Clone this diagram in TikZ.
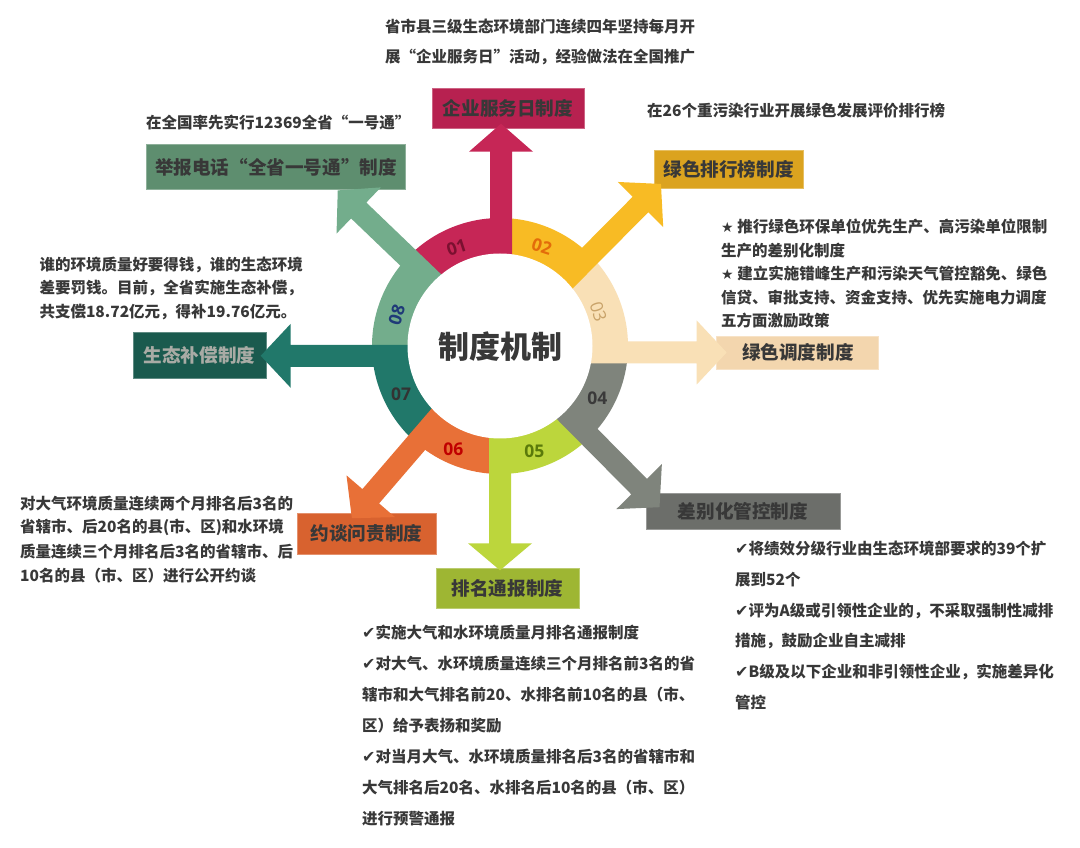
\documentclass[tikz,border=0pt]{standalone}
\usepackage{fontspec}
\setmainfont{Noto Sans CJK SC}
\newfontfamily\numfont{Open Sans}
\newfontfamily\symfont{DejaVu Sans}
\usetikzlibrary{calc}
\definecolor{txtgray}{HTML}{383838}
\definecolor{c1}{HTML}{C62656}\definecolor{k1}{HTML}{B72150}
\definecolor{c2}{HTML}{F8BB24}\definecolor{k2}{HTML}{DBA31F}
\definecolor{c3}{HTML}{F9E0B6}\definecolor{k3}{HTML}{F3D6AE}
\definecolor{c4}{HTML}{7F847C}\definecolor{k4}{HTML}{6C6E6A}
\definecolor{c5}{HTML}{BCD63C}\definecolor{k5}{HTML}{9EB633}
\definecolor{c6}{HTML}{E87037}\definecolor{k6}{HTML}{D8622F}
\definecolor{c7}{HTML}{21786A}\definecolor{k7}{HTML}{1A5A4E}
\definecolor{c8}{HTML}{73AD8C}\definecolor{k8}{HTML}{5E8E6F}
\definecolor{n1}{HTML}{7B1030}\definecolor{n2}{HTML}{E36C0A}
\definecolor{n3}{HTML}{C9A36A}\definecolor{n4}{HTML}{3A3A3A}
\definecolor{n5}{HTML}{5A7A0A}\definecolor{n6}{HTML}{C00000}
\definecolor{n7}{HTML}{333333}\definecolor{n8}{HTML}{1F3A78}
\definecolor{lightlbl}{HTML}{A9ABA5}
\newcommand\arrowpiece[5]{% color, angle, offset, base distance, head length
 \fill[#1] ($(C)+({#2-90}:{#3-11})$) -- ($(C)+(#2:#4)+({#2-90}:{#3-11})$)
  -- ($(C)+(#2:#4)+({#2-90}:{#3-32})$) -- ($(C)+(#2:{#4+#5})+({#2-90}:#3)$)
  -- ($(C)+(#2:#4)+({#2-90}:{#3+32})$) -- ($(C)+(#2:#4)+({#2-90}:{#3+11})$)
  -- ($(C)+({#2-90}:{#3+11})$) -- cycle;}
\newcommand\ringsector[3]{\fill[#1] (C) -- ($(C)+(#2:128)$) arc[start angle=#2, end angle=#3, radius=128] -- cycle;}
\newcommand\chk{{\symfont\fontsize{16}{18}\selectfont ✔}}
\newcommand\str{{\symfont\fontsize{14}{18}\selectfont ★}}
\tikzset{
 txt/.style={anchor=west, inner sep=0pt, text=txtgray, font=\fontsize{15.5}{18}\selectfont\bfseries},
 lbl/.style={inner sep=0pt, text=txtgray, font=\fontsize{18.6}{22}\selectfont\bfseries},
 boxk/.style={lbl, fill=#1, draw=#1!70!white, line width=0.8pt},
 num/.style={inner sep=0pt, font=\numfont\fontsize{17.5}{20}\selectfont\bfseries},
}
\begin{document}
\begin{tikzpicture}[x=1pt,y=1pt]
\useasboundingbox (0,0) rectangle (1080,847);
\fill[white] (0,0) rectangle (1080,847);
\coordinate (C) at (500,501);
% boxes
\node[boxk=k1, minimum width=152pt, minimum height=40pt] (b1) at (508,739) {企业服务日制度};
\node[boxk=k2, minimum width=149pt, minimum height=38pt] (b2) at (728.5,678) {绿色排行榜制度};
\node[boxk=k3, minimum width=162pt, minimum height=33pt] (b3) at (797.8,494.3) {绿色调度制度};
\node[boxk=k4, minimum width=194pt, minimum height=36pt] (b4) at (743,336) {差别化管控制度};
\node[boxk=k5, minimum width=143pt, minimum height=40pt] (b5) at (507.5,259) {排名通报制度};
\node[boxk=k6, minimum width=139pt, minimum height=41pt] (b6) at (366.5,313.5) {约谈问责制度};
\node[boxk=k7, minimum width=133pt, minimum height=46pt, text=lightlbl] (b7) at (199.5,492) {生态补偿制度};
\node[boxk=k8, minimum width=259pt, minimum height=45pt] (b8) at (276,680) {举报电话“全省一号通”制度};
% ring sectors
\ringsector{c1}{90}{136.2}
\ringsector{c8}{136.2}{180}
\ringsector{c7}{180}{229.3}
\ringsector{c6}{229.3}{270}
\ringsector{c5}{-90}{-45.3}
\ringsector{c4}{-45.3}{0}
\ringsector{c3}{0}{45.2}
\ringsector{c2}{45.2}{90}
% arrows
\arrowpiece{c1}{90}{1}{194.3}{28}
\arrowpiece{c2}{45.2}{0}{199.4}{29}
\arrowpiece{c3}{0}{6.5}{196.7}{30}
\arrowpiece{c4}{-45.3}{0}{197.8}{29}
\arrowpiece{c5}{-90}{0}{197.3}{27}
\arrowpiece{c6}{229.3}{0}{198.2}{29}
\arrowpiece{c7}{180}{-9.8}{209.3}{30}
\arrowpiece{c8}{136.2}{0}{195.8}{29}
\fill[white] (C) circle[radius=92.5];
% numbers
\node[num, text=n1, rotate=18] (m1) at (456.7,599.7) {01};
\node[num, text=n2, rotate=-18] (m2) at (541.7,600.3) {02};
\node[num, text=n3, rotate=-72, font=\numfont\fontsize{17.5}{20}\selectfont] (m3) at (598.3,535.3) {03};
\node[num, text=n4] (m4) at (597.3,448.7) {04};
\node[num, text=n5] (m5) at (534.3,395.3) {05};
\node[num, text=n6] (m6) at (453.3,398) {06};
\node[num, text=n7] (m7) at (401,453) {07};
\node[num, text=n8, rotate=73] (m8) at (396.7,532) {08};
\node[inner sep=0pt, text=txtgray, font=\fontsize{31}{36}\selectfont\bfseries] (ctr) at (500,500.3) {制度机制};
% texts
\node[txt] (t1) at (385,820) {省市县三级生态环境部门连续四年坚持每月开};
\node[txt] (t2) at (385,790) {展“企业服务日”活动，经验做法在全国推广};
\node[txt] (t3) at (146,724) {在全国率先实行12369全省“一号通”};
\node[txt] (t4) at (647,736) {在26个重污染行业开展绿色发展评价排行榜};
\node[txt] (s1) at (721,620.3) {\str\ 推行绿色环保单位优先生产、高污染单位限制};
\node[txt] (s2) at (721,596.3) {生产的差别化制度};
\node[txt] (s3) at (721,573) {\str\ 建立实施错峰生产和污染天气管控豁免、绿色};
\node[txt] (s4) at (721,549.7) {信贷、审批支持、资金支持、优先实施电力调度};
\node[txt] (s5) at (721,526.3) {五方面激励政策};
\node[txt] (l1) at (39.3,582) {谁的环境质量好要得钱，谁的生态环境};
\node[txt] (l2) at (39.3,558.7) {差要罚钱。目前，全省实施生态补偿，};
\node[txt] (l3) at (39.3,535.3) {共支偿18.72亿元，得补19.76亿元。};
\node[txt] (d1) at (20,343.5) {对大气环境质量连续两个月排名后3名的};
\node[txt] (d2) at (20,319.5) {省辖市、后20名的县(市、区)和水环境};
\node[txt] (d3) at (20,295.5) {质量连续三个月排名后3名的省辖市、后};
\node[txt] (d4) at (20,271.5) {10名的县（市、区）进行公开约谈};
\node[txt] (r1) at (735,298) {\chk 将绩效分级行业由生态环境部要求的39个扩};
\node[txt] (r2) at (735,267.2) {展到52个};
\node[txt] (r3) at (735,236.4) {\chk 评为A级或引领性企业的，不采取强制性减排};
\node[txt] (r4) at (735,205.6) {措施，鼓励企业自主减排};
\node[txt] (r5) at (735,174.8) {\chk B级及以下企业和非引领性企业，实施差异化};
\node[txt] (r6) at (735,144) {管控};
\node[txt] (p1) at (362,214) {\chk 实施大气和水环境质量月排名通报制度};
\node[txt] (p2) at (362,183) {\chk 对大气、水环境质量连续三个月排名前3名的省};
\node[txt] (p3) at (362,152) {辖市和大气排名前20、水排名前10名的县（市、};
\node[txt] (p4) at (362,121) {区）给予表扬和奖励};
\node[txt] (p5) at (362,90) {\chk 对当月大气、水环境质量排名后3名的省辖市和};
\node[txt] (p6) at (362,59) {大气排名后20名、水排名后10名的县（市、区）};
\node[txt] (p7) at (362,28) {进行预警通报};
\end{tikzpicture}
\end{document}
